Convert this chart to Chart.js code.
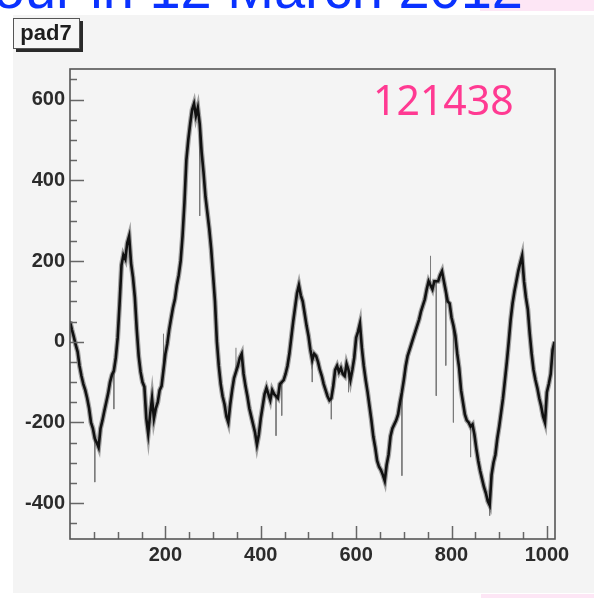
<!DOCTYPE html>
<html>
<head>
<meta charset="utf-8">
<title>pad7 waveform</title>
<script src="https://cdn.jsdelivr.net/npm/chart.js@4/dist/chart.umd.min.js"></script>
<style>
  html, body { margin: 0; padding: 0; background: #ffffff; }
  #c { display: block; }
</style>
</head>
<body>
<canvas id="c" width="594" height="598"></canvas>
<script>
// Sample spacing of the decimated waveform (in ADC sample units)
const SAMPLE_STEP = 4;

// Waveform amplitude, one value every SAMPLE_STEP samples starting at 0
const traceY = [
  50, 30, 12, -8, -25, -60, -85, -105, -120, -140,            // 0..36
  -165, -200, -215, -240, -250, -262, -215, -195, -172, -150, // 40..76
  -128, -100, -82, -72, -40, 10, 95, 190, 215, 205,           // 80..116
  245, 262, 195, 160, 110, 30, -35, -75, -100, -112,          // 120..156
  -190, -228, -180, -140, -190, -165, -150, -120, -110, -70,  // 160..196
  -30, -5, 30, 58, 85, 105, 140, 165, 200, 262,               // 200..236
  345, 450, 500, 540, 575, 590, 560, 580, 540, 470,           // 240..276
  420, 360, 320, 280, 230, 165, 100, 0, -60, -105,            // 280..316
  -135, -155, -185, -200, -155, -120, -90, -75, -60, -40,     // 320..356
  -30, -80, -110, -135, -165, -185, -205, -225, -255, -230,   // 360..396
  -190, -160, -130, -115, -130, -145, -120, -130, -135, -140, // 400..436
  -105, -100, -95, -80, -60, -30, 10, 50, 85, 120,            // 440..476
  140, 115, 100, 70, 40, 15, -20, -45, -30, -35,              // 480..516
  -50, -70, -85, -105, -120, -135, -145, -140, -110, -70,     // 520..556
  -60, -75, -65, -80, -85, -55, -70, -95, -70, -40,           // 560..596
  10, 25, 45, -15, -60, -95, -125, -160, -195, -235,          // 600..636
  -262, -295, -310, -318, -330, -345, -305, -280, -235, -215, // 640..676
  -205, -195, -180, -150, -125, -95, -60, -35, -20, -5,       // 680..716
  10, 25, 40, 55, 75, 90, 105, 130, 150, 140,                 // 720..756
  130, 150, 150, 150, 165, 175, 150, 125, 100, 95,            // 760..796
  60, 40, 15, -30, -65, -120, -150, -180, -195, -200,         // 800..836
  -210, -205, -230, -265, -295, -320, -340, -360, -375, -395, // 840..876
  -405, -330, -300, -280, -240, -210, -175, -140, -95, -50,   // 880..916
  0, 55, 95, 125, 150, 175, 195, 213, 150, 110,               // 920..956
  80, 20, -30, -70, -95, -115, -140, -160, -185, -200,        // 960..996
  -125, -105, -80, -20, 0                                     // 1000..1016
];

// Single-sample glitches: sample position and the value they reach
const spikeX   = [52, 92, 196, 272, 348, 432, 444, 508, 548, 584, 696, 756, 768, 788, 804, 840, 880];
const spikeTip = [-348, -167, 20, 312, -15, -233, -183, -100, -192, -125, -332, 213, -134, -59, -200, -286, -431];

// Axis ranges and labelled ticks
const xRange = [0, 1017];
const yRange = [-489, 676];
const xTickLabels = [200, 400, 600, 800, 1000];
const yTickLabels = [-400, -200, 0, 200, 400, 600];

const runLabel = '121438';
const padName = 'pad7';
const titleText = 'hour in 12 March 2012';

// ---- build library data from the arrays ----
const tracePoints = traceY.map((v, i) => ({ x: i * SAMPLE_STEP, y: v }));
const spikePoints = [];
spikeX.forEach((sx, i) => {
  const base = traceY[Math.round(sx / SAMPLE_STEP)];
  spikePoints.push({ x: sx, y: base }, { x: sx, y: spikeTip[i] }, { x: sx, y: null });
});

const PAD_COLOR = '#f4f4f4';

const decorPlugin = {
  id: 'decor',
  beforeDraw(chart) {
    const ctx = chart.ctx;
    ctx.save();
    ctx.fillStyle = '#ffffff';
    ctx.fillRect(0, 0, chart.width, chart.height);
    // pink strips of the neighbouring panels
    ctx.fillStyle = '#fde6f5';
    ctx.fillRect(480, 0, 114, 11);
    ctx.fillRect(481, 594, 113, 4);
    // pad background
    ctx.fillStyle = PAD_COLOR;
    ctx.fillRect(13, 15, 581, 578);
    // page title, clipped by the top edge
    ctx.fillStyle = '#0a32ff';
    ctx.font = '56px "Liberation Sans", Arial, sans-serif';
    ctx.textAlign = 'right';
    ctx.textBaseline = 'alphabetic';
    ctx.fillText(titleText, 523, 8);
    // pad name box with drop shadow
    ctx.fillStyle = '#2a2a2a';
    ctx.fillRect(16, 21, 67, 31);
    ctx.fillStyle = '#f7f7f7';
    ctx.fillRect(13, 18, 67, 31);
    ctx.strokeStyle = '#555';
    ctx.lineWidth = 1;
    ctx.strokeRect(13.5, 18.5, 66, 30);
    ctx.fillStyle = '#1e1e1e';
    ctx.font = 'bold 22px "Liberation Sans", Arial, sans-serif';
    ctx.textAlign = 'center';
    ctx.textBaseline = 'middle';
    ctx.fillText(padName, 46, 34);
    ctx.restore();
  },
  afterDatasetsDraw(chart) {
    const ctx = chart.ctx;
    const a = chart.chartArea;
    const xs = chart.scales.x, ys = chart.scales.y;
    ctx.save();
    ctx.strokeStyle = '#666';
    ctx.lineWidth = 1.5;
    // y ticks: major every 200, minor every 50, drawn inside the frame
    for (let v = Math.ceil(yRange[0] / 50) * 50; v <= yRange[1]; v += 50) {
      const py = Math.round(ys.getPixelForValue(v)) + 0.5;
      const len = v % 200 === 0 ? 14 : 7;
      ctx.beginPath();
      ctx.moveTo(a.left, py);
      ctx.lineTo(a.left + len, py);
      ctx.stroke();
    }
    // x ticks
    for (let v = 50; v <= xRange[1]; v += 50) {
      const px = Math.round(xs.getPixelForValue(v)) + 0.5;
      const len = v % 200 === 0 ? 13 : 7;
      ctx.beginPath();
      ctx.moveTo(px, a.bottom);
      ctx.lineTo(px, a.bottom - len);
      ctx.stroke();
    }
    // frame
    ctx.strokeStyle = '#555';
    ctx.lineWidth = 1.6;
    ctx.strokeRect(a.left, a.top, a.right - a.left, a.bottom - a.top);
    // run number
    ctx.fillStyle = '#ff3a92';
    ctx.font = '41px "Noto Sans", "Liberation Sans", sans-serif';
    ctx.textAlign = 'left';
    ctx.textBaseline = 'alphabetic';
    ctx.fillText(runLabel, 373, 115);
    ctx.restore();
  }
};

const tickFont = { family: '"Liberation Sans", Arial, sans-serif', size: 20, weight: 'bold' };
const plainNumber = v => String(v);

new Chart(document.getElementById('c'), {
  type: 'line',
  data: {
    datasets: [
      {
        label: 'waveform',
        data: tracePoints,
        borderColor: '#111111',
        borderWidth: 2.6,
        pointRadius: 0,
        tension: 0,
        fill: false
      },
      {
        label: 'waveform noise band',
        data: tracePoints,
        borderColor: 'rgba(60,60,60,0.45)',
        borderWidth: 5,
        pointRadius: 0,
        tension: 0,
        fill: false
      },
      {
        label: 'glitches',
        data: spikePoints,
        borderColor: '#7a7a7a',
        borderWidth: 1,
        pointRadius: 0,
        spanGaps: false,
        fill: false
      }
    ]
  },
  options: {
    responsive: false,
    animation: false,
    devicePixelRatio: 1,
    layout: { padding: { top: 69, right: 39, left: 0, bottom: 0 } },
    plugins: { legend: { display: false }, tooltip: { enabled: false }, title: { display: false } },
    scales: {
      x: {
        type: 'linear',
        min: xRange[0],
        max: xRange[1],
        grid: { display: false, drawTicks: false },
        border: { display: false },
        afterFit(s) { s.height = 59; },
        afterBuildTicks(s) { s.ticks = xTickLabels.map(v => ({ value: v })); },
        ticks: { font: tickFont, color: '#2b2b2b', padding: 4, maxRotation: 0, autoSkip: false, callback: plainNumber }
      },
      y: {
        type: 'linear',
        min: yRange[0],
        max: yRange[1],
        grid: { display: false, drawTicks: false },
        border: { display: false },
        afterFit(s) { s.width = 70; },
        afterBuildTicks(s) { s.ticks = yTickLabels.map(v => ({ value: v })); },
        ticks: { font: tickFont, color: '#2b2b2b', padding: 5, callback: plainNumber }
      }
    }
  },
  plugins: [decorPlugin]
});
</script>
</body>
</html>
